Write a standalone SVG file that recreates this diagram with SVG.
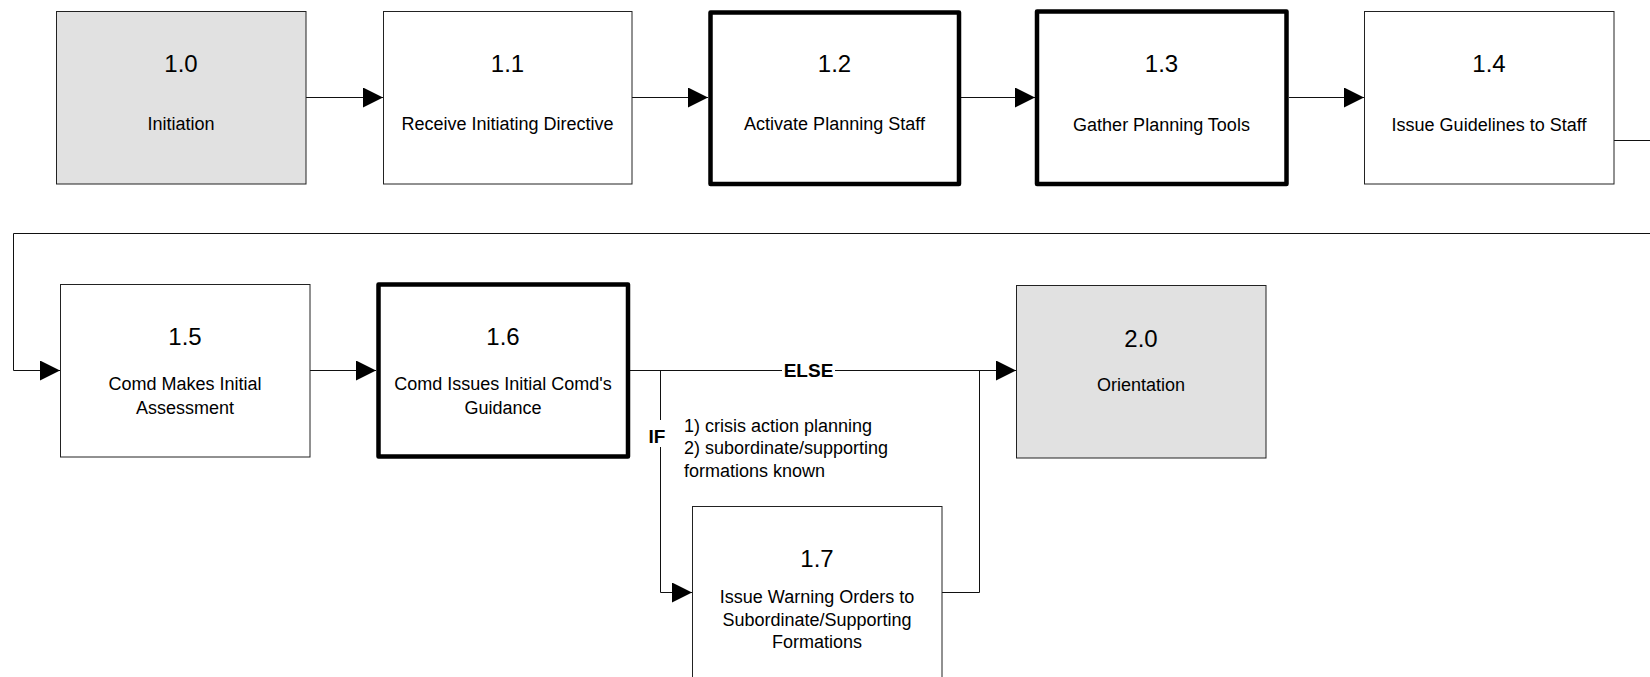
<svg xmlns="http://www.w3.org/2000/svg" width="1650" height="677" viewBox="0 0 1650 677">
<style>
  .box { fill: #ffffff; stroke: #222; stroke-width: 1; }
  .gray { fill: #e1e1e1; }
  .thick { stroke: #000; stroke-width: 4.5; stroke-linejoin: round; }
  .num { font-family: "Liberation Sans", Arial, sans-serif; font-size: 24px; text-anchor: middle; fill: #000; }
  .lbl { font-family: "Liberation Sans", Arial, sans-serif; font-size: 18px; text-anchor: middle; fill: #000; }
  .note { font-family: "Liberation Sans", Arial, sans-serif; font-size: 18px; fill: #000; }
  .cond { font-family: "Liberation Sans", Arial, sans-serif; font-size: 19px; font-weight: bold; text-anchor: middle; fill: #000; }
  .conn { fill: none; stroke: #111; stroke-width: 1; }
</style>
<defs>
  <marker id="arrow" markerUnits="userSpaceOnUse" markerWidth="20" markerHeight="20" refX="20" refY="10" orient="auto">
    <path d="M0,0 L20,10 L0,20 z" fill="#000"/>
  </marker>
</defs>
<rect width="1650" height="677" fill="#ffffff"/>

<g id="connectors">
  <path class="conn" d="M306,97.5 H383" marker-end="url(#arrow)"/>
  <path class="conn" d="M632,97.5 H708" marker-end="url(#arrow)"/>
  <path class="conn" d="M961,97.5 H1035" marker-end="url(#arrow)"/>
  <path class="conn" d="M1289,97.5 H1364" marker-end="url(#arrow)"/>
  <path class="conn" d="M1614,140.5 H1660 V233.5 H13.5 V370.5 H60" marker-end="url(#arrow)"/>
  <path class="conn" d="M310,370.5 H376" marker-end="url(#arrow)"/>
  <path class="conn" d="M630,370.5 H782"/>
  <path class="conn" d="M835,370.5 H1016" marker-end="url(#arrow)"/>
  <path class="conn" d="M660.5,370.5 V420"/>
  <path class="conn" d="M660.5,447 V592.5 H692" marker-end="url(#arrow)"/>
  <path class="conn" d="M942,592.5 H979.5 V370.5"/>
  <text class="cond" x="808.5" y="377">ELSE</text>
  <text class="cond" x="657" y="443">IF</text>
  <text class="note" x="684" y="432">1) crisis action planning</text>
  <text class="note" x="684" y="454">2) subordinate/supporting</text>
  <text class="note" x="684" y="477">formations known</text>
</g>

<g id="node-1-0">
  <rect class="box gray" x="56.5" y="11.5" width="249.5" height="172.5"/>
  <text class="num" x="181" y="72">1.0</text>
  <text class="lbl" x="181" y="130">Initiation</text>
</g>
<g id="node-1-1">
  <rect class="box" x="383.5" y="11.5" width="248.5" height="172.5"/>
  <text class="num" x="507.5" y="72">1.1</text>
  <text class="lbl" x="507.5" y="130">Receive Initiating Directive</text>
</g>
<g id="node-1-2">
  <rect class="box thick" x="710.5" y="12.5" width="248.5" height="171.5"/>
  <text class="num" x="834.5" y="72">1.2</text>
  <text class="lbl" x="834.5" y="130">Activate Planning Staff</text>
</g>
<g id="node-1-3">
  <rect class="box thick" x="1037" y="11.5" width="249.5" height="172.5"/>
  <text class="num" x="1161.5" y="72">1.3</text>
  <text class="lbl" x="1161.5" y="131">Gather Planning Tools</text>
</g>
<g id="node-1-4">
  <rect class="box" x="1364.5" y="11.5" width="249.5" height="172.5"/>
  <text class="num" x="1489" y="72">1.4</text>
  <text class="lbl" x="1489" y="131">Issue Guidelines to Staff</text>
</g>
<g id="node-1-5">
  <rect class="box" x="60.5" y="284.5" width="249.5" height="172.5"/>
  <text class="num" x="185" y="345">1.5</text>
  <text class="lbl" x="185" y="390">Comd Makes Initial</text>
  <text class="lbl" x="185" y="414">Assessment</text>
</g>
<g id="node-1-6">
  <rect class="box thick" x="378.5" y="284.5" width="249.5" height="172"/>
  <text class="num" x="503" y="345">1.6</text>
  <text class="lbl" x="503" y="390">Comd Issues Initial Comd's</text>
  <text class="lbl" x="503" y="414">Guidance</text>
</g>
<g id="node-2-0">
  <rect class="box gray" x="1016.5" y="285.5" width="249.5" height="172.5"/>
  <text class="num" x="1141" y="347">2.0</text>
  <text class="lbl" x="1141" y="391">Orientation</text>
</g>
<g id="node-1-7">
  <rect class="box" x="692.5" y="506.5" width="249.5" height="200"/>
  <text class="num" x="817" y="567">1.7</text>
  <text class="lbl" x="817" y="603">Issue Warning Orders to</text>
  <text class="lbl" x="817" y="626">Subordinate/Supporting</text>
  <text class="lbl" x="817" y="648">Formations</text>
</g>
</svg>
